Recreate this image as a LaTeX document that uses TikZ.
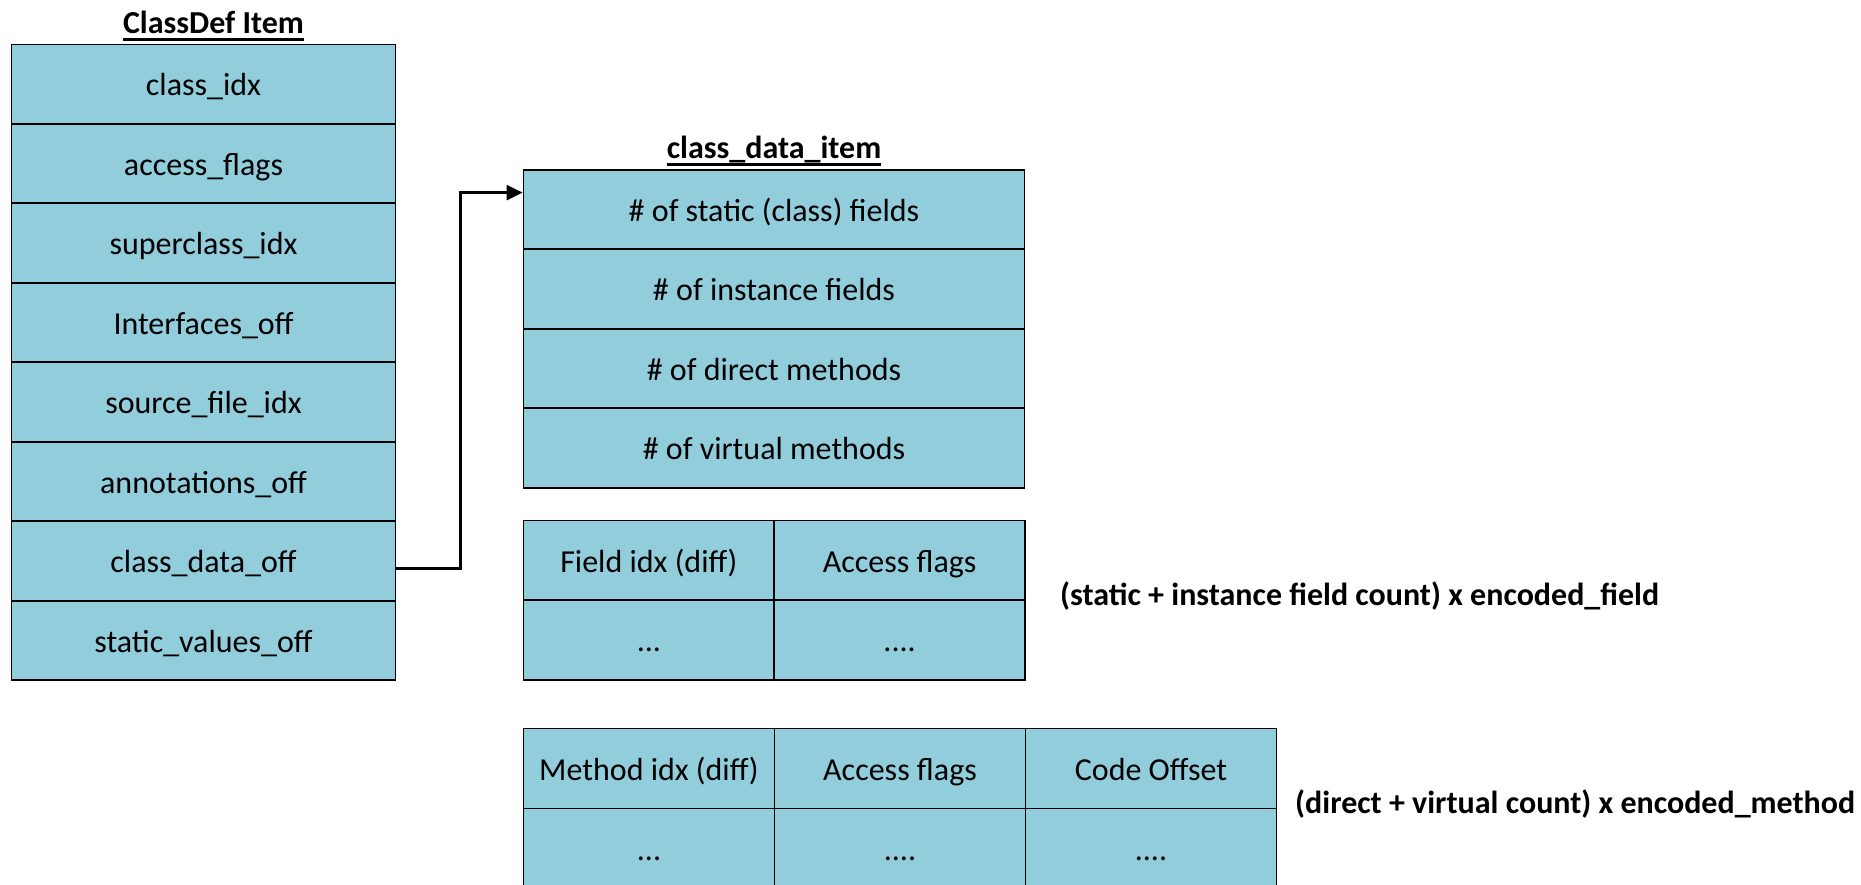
\documentclass[tikz,border=0pt]{standalone}
\usepackage{fontspec}
\setmainfont{Carlito}
\usetikzlibrary{arrows.meta,calc}
\definecolor{cellblue}{HTML}{92CDDC}
\begin{document}
\begin{tikzpicture}[x=1pt,y=-1pt,
  font=\fontsize{32}{38}\selectfont,
  cell/.style={draw=black, line width=1.8pt, fill=cellblue, inner sep=0pt,
               text height=23.6pt, text depth=0pt},
  wide/.style={cell, minimum width=384pt, minimum height=79.45pt},
  mid/.style={cell, minimum width=501pt, minimum height=79.5pt},
  narrow/.style={cell, minimum width=250.75pt, minimum height=79.75pt},
  mnarrow/.style={cell, minimum width=251pt, minimum height=80pt},
  heading/.style={font=\fontsize{32}{38}\selectfont\bfseries, anchor=base, inner sep=0pt},
  note/.style={font=\fontsize{32}{38}\selectfont\bfseries, anchor=base west, inner sep=0pt},
  uline/.style={line width=2.3pt},
  link/.style={line width=2.6pt, -{Triangle[length=16pt,width=15pt]}}]
\useasboundingbox (0,0) rectangle (1861,885);
\clip (0,0) rectangle (1861,885);

% ClassDef item
\node[heading] (cdtitle) at (213.5,34) {ClassDef Item};
\draw[uline] ($(cdtitle.base west)+(0,5.5)$) -- ($(cdtitle.base east)+(0,5.5)$);
\node[wide] (cidx)   at (203.5,84.2)  {class\_idx};
\node[wide] (aflags) at (203.5,163.7) {access\_flags};
\node[wide] (sidx)   at (203.5,243.1) {superclass\_idx};
\node[wide] (ioff)   at (203.5,322.6) {Interfaces\_off};
\node[wide] (sfidx)  at (203.5,402.0) {source\_file\_idx};
\node[wide] (aoff)   at (203.5,481.5) {annotations\_off};
\node[wide] (cdoff)  at (203.5,560.9) {class\_data\_off};
\node[wide] (svoff)  at (203.5,640.4) {static\_values\_off};

% class_data_item header
\node[heading] (cdititle) at (774,159) {class\_data\_item};
\draw[uline] ($(cdititle.base west)+(0,5.5)$) -- ($(cdititle.base east)+(0,5.5)$);
\node[mid] (nsf) at (774,209.45) {\# of static (class) fields};
\node[mid] (nif) at (774,288.95) {\# of instance fields};
\node[mid] (ndm) at (774,368.45) {\# of direct methods};
\node[mid] (nvm) at (774,447.95) {\# of virtual methods};

% encoded_field list
\node[narrow] (fidx)  at (648.9,560.35) {Field idx (diff)};
\node[narrow] (facc)  at (899.6,560.35) {Access flags};
\node[narrow] (fidx2) at (648.9,640.1)  {...};
\node[narrow] (facc2) at (899.6,640.1)  {....};
\node[note] (fnote) at (1060,605) {(static + instance field count) x encoded\_field};

% encoded_method list
\node[mnarrow] (midx)  at (649,768.5)  {Method idx (diff)};
\node[mnarrow] (macc)  at (900,768.5)  {Access flags};
\node[mnarrow] (mcode) at (1151,768.5) {Code Offset};
\node[mnarrow] (midx2) at (649,848.5)  {...};
\node[mnarrow] (macc2) at (900,848.5)  {....};
\node[mnarrow] (mcode2) at (1151,848.5) {....};
\node[note] (mnote) at (1295,813) {(direct + virtual count) x encoded\_method};

% class_data_off points to the class_data_item
\draw[link] ($(cdoff.east)+(0,7.6)$) -- ++(64,0) |- ($(nsf.north west)+(0,23.8)$);
\end{tikzpicture}
\end{document}
